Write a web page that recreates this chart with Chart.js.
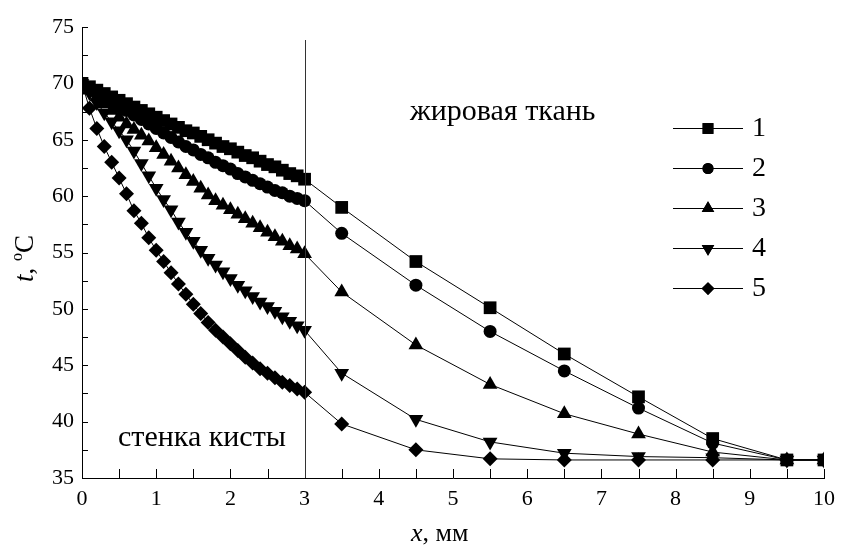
<!DOCTYPE html>
<html>
<head>
<meta charset="utf-8">
<script src="https://cdn.jsdelivr.net/npm/chart.js@4.4.0/dist/chart.umd.min.js"></script>
<style>
  html, body { margin: 0; padding: 0; background: #fff; }
  canvas { display: block; }
</style>
</head>
<body>
<canvas id="chart" width="843" height="546"></canvas>
<script>
// x, mm
const xMm = [0, 0.1, 0.2, 0.3, 0.4, 0.5, 0.6, 0.7, 0.8, 0.9, 1.0, 1.1, 1.2, 1.3, 1.4, 1.5,
  1.6, 1.7, 1.8, 1.9, 2.0, 2.1, 2.2, 2.3, 2.4, 2.5, 2.6, 2.7, 2.8, 2.9, 3.0,
  3.5, 4.5, 5.5, 6.5, 7.5, 8.5, 9.5, 10];

// t, °C for curves 1..5
const t1 = [70.0, 69.7, 69.4, 69.1, 68.8, 68.5, 68.2, 67.9, 67.6, 67.3, 67.0, 66.7, 66.4, 66.1, 65.8, 65.6,
  65.3, 65.0, 64.7, 64.4, 64.2, 63.9, 63.6, 63.4, 63.1, 62.8, 62.6, 62.3, 62.0, 61.8, 61.5,
  59.0, 54.2, 50.1, 46.0, 42.2, 38.5, 36.6, 36.6];
const t2 = [70.0, 69.6, 69.2, 68.8, 68.4, 68.0, 67.6, 67.2, 66.8, 66.4, 66.0, 65.6, 65.2, 64.8, 64.4, 64.1,
  63.7, 63.4, 63.0, 62.7, 62.4, 62.0, 61.7, 61.4, 61.1, 60.8, 60.5, 60.3, 60.0, 59.8, 59.6,
  56.7, 52.1, 48.0, 44.5, 41.2, 38.1, 36.6, 36.6];
const t3 = [70.0, 69.4, 68.8, 68.2, 67.6, 67.0, 66.4, 65.9, 65.4, 64.9, 64.3, 63.7, 63.1, 62.5, 61.9, 61.3,
  60.7, 60.1, 59.6, 59.2, 58.8, 58.4, 58.0, 57.6, 57.2, 56.8, 56.4, 56.0, 55.6, 55.3, 54.9,
  51.5, 46.8, 43.3, 40.7, 38.9, 37.3, 36.6, 36.6];
const t4 = [70.0, 69.2, 68.3, 67.4, 66.6, 65.8, 65.0, 64.0, 62.9, 61.8, 60.7, 59.7, 58.8, 57.7, 56.8, 56.0,
  55.2, 54.5, 53.9, 53.3, 52.7, 52.1, 51.6, 51.1, 50.6, 50.2, 49.8, 49.3, 48.9, 48.5, 48.1,
  44.3, 40.2, 38.2, 37.2, 36.9, 36.8, 36.6, 36.6];
const t5 = [70.0, 67.8, 66.0, 64.4, 63.0, 61.6, 60.2, 58.7, 57.6, 56.3, 55.2, 54.2, 53.2, 52.2, 51.3, 50.4,
  49.6, 48.8, 48.1, 47.5, 46.9, 46.3, 45.7, 45.2, 44.7, 44.3, 43.9, 43.5, 43.2, 42.9, 42.6,
  39.8, 37.5, 36.7, 36.6, 36.6, 36.6, 36.6, 36.6];

const seriesLabels = ['1', '2', '3', '4', '5'];
const xMinorTicks = [0, 0.5, 1, 1.5, 2, 2.5, 3, 3.5, 4, 4.5, 5, 5.5, 6, 6.5, 7, 7.5, 8, 8.5, 9, 9.5, 10];
const yMinorTicks = [35, 37.5, 40, 42.5, 45, 47.5, 50, 52.5, 55, 57.5, 60, 62.5, 65, 67.5, 70, 72.5, 75];
const boundaryX = 3;

const serif = "Liberation Serif";

// marker look per curve
const markers = [
  { pointStyle: 'rect', radius: 9, rotation: 0 },
  { pointStyle: 'circle', radius: 6.5, rotation: 0 },
  { pointStyle: 'triangle', radius: 8.5, rotation: 0 },
  { pointStyle: 'triangle', radius: 8.5, rotation: 180 },
  { pointStyle: 'rectRot', radius: 7.5, rotation: 0 }
];

function toPoints(ys) {
  return xMm.map(function(x, i) { return { x: x, y: ys[i] }; });
}

const allSeries = [t1, t2, t3, t4, t5];
const datasets = allSeries.map(function(ys, i) {
  return {
    label: seriesLabels[i],
    data: toPoints(ys),
    showLine: true,
    borderColor: '#000',
    borderWidth: 1,
    backgroundColor: '#000',
    pointBackgroundColor: '#000',
    pointBorderColor: '#000',
    pointBorderWidth: 0,
    pointStyle: markers[i].pointStyle,
    pointRadius: markers[i].radius,
    pointRotation: markers[i].rotation,
    pointHoverRadius: markers[i].radius
  };
});

// ticks, boundary line, text labels and legend
const decorPlugin = {
  id: 'decor',
  afterDraw: function(chart) {
    const ctx = chart.ctx;
    const xs = chart.scales.x;
    const ys = chart.scales.y;
    const area = chart.chartArea;

    ctx.save();
    ctx.strokeStyle = '#000';
    ctx.lineWidth = 1;

    // inward ticks
    ctx.beginPath();
    xMinorTicks.forEach(function(v) {
      const px = Math.round(xs.getPixelForValue(v)) + 0.5;
      ctx.moveTo(px, area.bottom);
      ctx.lineTo(px, area.bottom - 9);
    });
    yMinorTicks.forEach(function(v) {
      const py = Math.round(ys.getPixelForValue(v)) + 0.5;
      ctx.moveTo(area.left, py);
      ctx.lineTo(area.left + 6, py);
    });
    ctx.stroke();

    // boundary between wall and fat tissue
    const bx = Math.round(xs.getPixelForValue(boundaryX)) + 0.5;
    ctx.strokeStyle = '#333';
    ctx.beginPath();
    ctx.moveTo(bx, 40);
    ctx.lineTo(bx, area.bottom);
    ctx.stroke();

    // region labels
    ctx.fillStyle = '#000';
    ctx.textBaseline = 'alphabetic';
    ctx.textAlign = 'left';
    ctx.font = '30px ' + serif;
    ctx.fillText('жировая ткань', 410, 120);
    ctx.fillText('стенка кисты', 118, 446);

    // legend
    chart.data.datasets.forEach(function(ds, i) {
      const ly = 128 + i * 40;
      ctx.strokeStyle = '#000';
      ctx.beginPath();
      ctx.moveTo(673, ly + 0.5);
      ctx.lineTo(743, ly + 0.5);
      ctx.stroke();
      ctx.fillStyle = '#000';
      Chart.helpers.drawPoint(ctx, {
        pointStyle: markers[i].pointStyle,
        radius: markers[i].radius * 0.85,
        rotation: markers[i].rotation,
        borderWidth: 0
      }, 708, ly + 0.5);
      ctx.fill();
      ctx.font = '28px ' + serif;
      ctx.textBaseline = 'middle';
      ctx.fillText(ds.label, 752, ly + 1);
    });

    // x axis title: x, мм
    ctx.textBaseline = 'alphabetic';
    ctx.font = 'italic 26px ' + serif;
    let tx = 411;
    ctx.fillText('x', tx, 541);
    tx += ctx.measureText('x').width;
    ctx.font = '26px ' + serif;
    ctx.fillText(', мм', tx, 541);

    // y axis title: t, °C (rotated)
    ctx.translate(33, 282);
    ctx.rotate(-Math.PI / 2);
    let ty = 0;
    ctx.font = 'italic 27px ' + serif;
    ctx.fillText('t', ty, 0);
    ty += ctx.measureText('t').width;
    ctx.font = '27px ' + serif;
    ctx.fillText(', ', ty, 0);
    ty += ctx.measureText(', ').width;
    ctx.font = '16px ' + serif;
    ctx.fillText('o', ty, -11);
    ty += ctx.measureText('o').width;
    ctx.font = '27px ' + serif;
    ctx.fillText('C', ty, 0);

    ctx.restore();
  }
};

new Chart(document.getElementById('chart').getContext('2d'), {
  type: 'scatter',
  data: { datasets: datasets },
  options: {
    responsive: false,
    animation: false,
    events: [],
    layout: { padding: { top: 27, right: 17, left: 0, bottom: 0 } },
    plugins: {
      legend: { display: false },
      tooltip: { enabled: false }
    },
    scales: {
      x: {
        type: 'linear',
        min: 0,
        max: 10,
        grid: { display: false, drawTicks: false },
        border: { display: true, color: '#000', width: 1 },
        ticks: {
          stepSize: 1,
          padding: 8,
          color: '#000',
          font: { family: serif, size: 22 }
        },
        afterFit: function(scale) { scale.height = 68; }
      },
      y: {
        type: 'linear',
        min: 35,
        max: 75,
        grid: { display: false, drawTicks: false },
        border: { display: true, color: '#000', width: 1 },
        ticks: {
          stepSize: 5,
          padding: 8,
          color: '#000',
          font: { family: serif, size: 22 }
        },
        afterFit: function(scale) { scale.width = 82; }
      }
    }
  },
  plugins: [decorPlugin]
});
</script>
</body>
</html>
